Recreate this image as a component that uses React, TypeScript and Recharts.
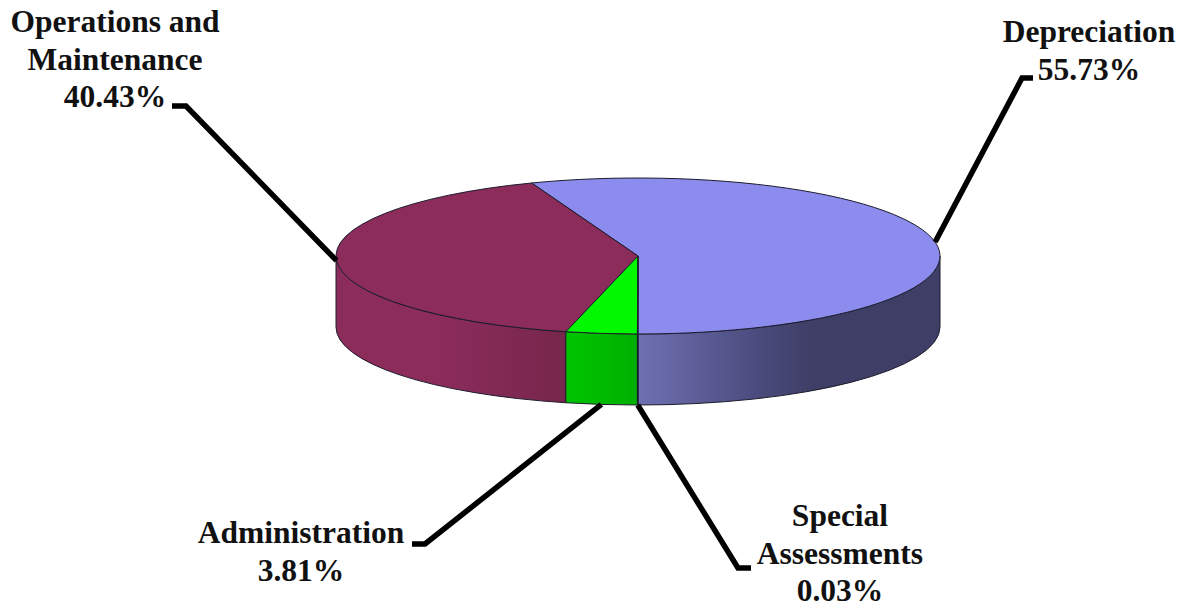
import { Pie, PieChart } from 'recharts'

const sliceNames = ['Depreciation', 'Operations and Maintenance', 'Administration', 'Special Assessments']
const sliceShares = [55.73, 40.43, 3.81, 0.03]
const topColors = ['#8c8cee', '#8b2c5b', '#00f800', '#00f800']

const data = sliceNames.map((name, i) => ({ name, value: sliceShares[i] }))

const WIDTH = 1189
const HEIGHT = 608
const CX = 638
const CY = 256
const RX = 302
const RY = 78
const DEPTH = 71
const SQUASH = RY / RX

// where each label sits, and how its leader line bends on the way there
const labelLayout = [
    { lines: ['Depreciation'], x: 1089, y: 42, bendX: 1022, endX: 1033, bendY: 78, front: false },
    { lines: ['Operations and', 'Maintenance'], x: 115, y: 32, bendX: 186, endX: 172, bendY: 106, front: false },
    { lines: ['Administration'], x: 301, y: 543, bendX: 425, endX: 412, bendY: 544, front: true },
    { lines: ['Special', 'Assessments'], x: 840, y: 526, bendX: 738, endX: 751, bendY: 568, front: true }
]

const rad = (deg: number) => (deg * Math.PI) / 180
const px = (cx: number, r: number, deg: number) => cx + r * Math.cos(rad(deg))
const py = (cy: number, r: number, deg: number) => cy - r * SQUASH * Math.sin(rad(deg))

// only the part of a slice on the near half of the ellipse shows a wall
function wallRange(start: number, end: number) {
    for (const [lo, hi] of [[180, 360], [540, 720]]) {
        const a0 = Math.max(start, lo)
        const a1 = Math.min(end, hi)
        if (a1 > a0) return [a0, a1]
    }
    return null
}

function PieSlice(props: any) {
    const { cx, cy, outerRadius: r, startAngle, endAngle, index } = props
    const ry = r * SQUASH
    const large = endAngle - startAngle > 180 ? 1 : 0
    const top = `M${cx},${cy} L${px(cx, r, startAngle)},${py(cy, r, startAngle)} A${r},${ry} 0 ${large} 0 ${px(cx, r, endAngle)},${py(cy, r, endAngle)} Z`
    const range = wallRange(startAngle, endAngle)
    let wall = ''
    if (range) {
        const [a0, a1] = range
        wall = `M${px(cx, r, a0)},${py(cy, r, a0)} A${r},${ry} 0 0 0 ${px(cx, r, a1)},${py(cy, r, a1)} L${px(cx, r, a1)},${py(cy, r, a1) + DEPTH} A${r},${ry} 0 0 1 ${px(cx, r, a0)},${py(cy, r, a0) + DEPTH} Z`
    }
    return (
        <g>
            {wall && <path d={wall} fill={`url(#wall${index})`} stroke="#1c1c2c" strokeWidth={1} />}
            <path d={top} fill={topColors[index]} stroke="#1c1c2c" strokeWidth={1} strokeLinejoin="round" />
        </g>
    )
}

function SliceLabel(props: any) {
    const { cx, cy, outerRadius: r, midAngle, index, value } = props
    const layout = labelLayout[index]
    const ax = px(cx, r, midAngle)
    const ay = py(cy, r, midAngle) + (layout.front ? DEPTH : 0)
    const rows = [...layout.lines, `${value.toFixed(2)}%`]
    return (
        <g>
            <polyline
                points={`${ax},${ay} ${layout.bendX},${layout.bendY} ${layout.endX},${layout.bendY}`}
                fill="none"
                stroke="#000"
                strokeWidth={5.5}
            />
            <text x={layout.x} y={layout.y} textAnchor="middle" fontFamily="'Liberation Serif', serif" fontWeight="bold" fontSize={31.5} fill="#111">
                {rows.map((row, i) => (
                    <tspan key={row} x={layout.x} dy={i === 0 ? 0 : 37.5}>{row}</tspan>
                ))}
            </text>
        </g>
    )
}

export default function App() {
    return (
        <div style={{ position: 'absolute', left: 0, top: 0, width: WIDTH, height: HEIGHT, background: '#fff' }}>
            <PieChart width={WIDTH} height={HEIGHT} margin={{ top: 0, right: 0, bottom: 0, left: 0 }}>
                <defs>
                    <linearGradient id="wall0" gradientUnits="userSpaceOnUse" x1={638} y1={0} x2={940} y2={0}>
                        <stop offset="0" stopColor="#6f70b2" />
                        <stop offset="0.4" stopColor="#4a4b7c" />
                        <stop offset="0.58" stopColor="#3e3e66" />
                        <stop offset="1" stopColor="#3e3e66" />
                    </linearGradient>
                    <linearGradient id="wall1" gradientUnits="userSpaceOnUse" x1={336} y1={0} x2={568} y2={0}>
                        <stop offset="0" stopColor="#8b2c5b" />
                        <stop offset="0.45" stopColor="#8b2c5b" />
                        <stop offset="1" stopColor="#76264b" />
                    </linearGradient>
                    <linearGradient id="wall2" gradientUnits="userSpaceOnUse" x1={568} y1={0} x2={638} y2={0}>
                        <stop offset="0" stopColor="#00c400" />
                        <stop offset="1" stopColor="#00b000" />
                    </linearGradient>
                    <linearGradient id="wall3" gradientUnits="userSpaceOnUse" x1={568} y1={0} x2={638} y2={0}>
                        <stop offset="0" stopColor="#00b000" />
                        <stop offset="1" stopColor="#00b000" />
                    </linearGradient>
                </defs>
                <Pie
                    data={data}
                    dataKey="value"
                    nameKey="name"
                    cx={CX}
                    cy={CY}
                    innerRadius={0}
                    outerRadius={RX}
                    startAngle={270}
                    endAngle={630}
                    paddingAngle={0}
                    stroke="none"
                    shape={PieSlice}
                    label={SliceLabel}
                    labelLine={false}
                    isAnimationActive={false}
                />
            </PieChart>
        </div>
    )
}
